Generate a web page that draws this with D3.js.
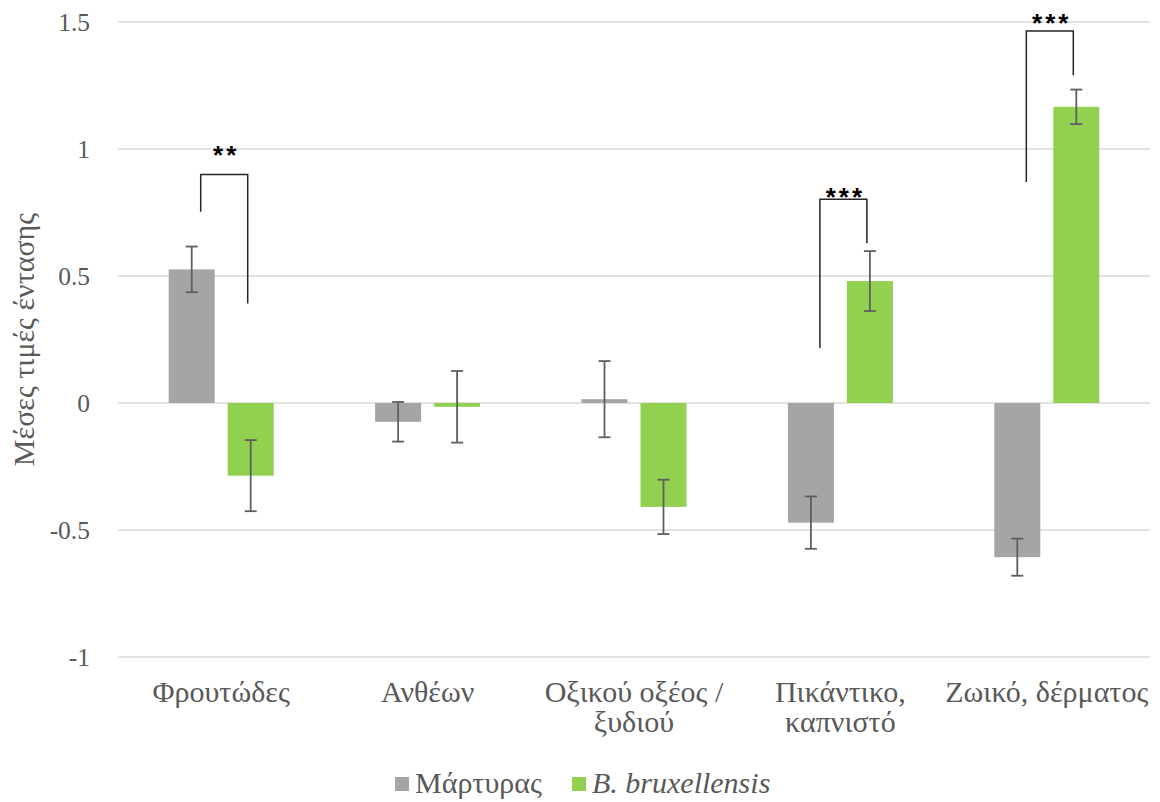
<!DOCTYPE html>
<html>
<head>
<meta charset="utf-8">
<script src="https://cdn.jsdelivr.net/npm/d3@7/dist/d3.min.js"></script>
</head>
<body style="margin:0">
<svg id="chart" width="1160" height="802"></svg>
<script>
// Sensory attribute categories (two-line labels split on "\n")
const categories = [
  "Φρουτώδες",
  "Ανθέων",
  "Οξικού οξέος /\nξυδιού",
  "Πικάντικο,\nκαπνιστό",
  "Ζωικό, δέρματος"
];

const seriesNames = ["Μάρτυρας", "B. bruxellensis"];

// Mean intensity values and their error margins
const controlValues = [0.526, -0.074, 0.015, -0.471, -0.607];
const controlErrors = [0.090, 0.078, 0.150, 0.103, 0.073];
const brettValues   = [-0.286, -0.015, -0.409, 0.480, 1.166];
const brettErrors   = [0.140, 0.141, 0.107, 0.118, 0.068];

const yTicks = [-1, -0.5, 0, 0.5, 1, 1.5];
const yTickLabels = ["-1", "-0.5", "0", "0.5", "1", "1.5"];

// Significance brackets: category index, left leg end, bracket top, right leg end, star row level (axis units)
const brackets = [
  { cat: 0, left: 0.753, top: 0.900, right: 0.392, starsAt: 1.004, label: "**" },
  { cat: 3, left: 0.217, top: 0.802, right: 0.629, starsAt: 0.839, label: "***" },
  { cat: 4, left: 0.870, top: 1.465, right: 1.290, starsAt: 1.524, label: "***" }
];

const colors = ["#a5a5a5", "#92d050"];
const textColor = "#595959";
const SERIF = "Liberation Serif";
const SANS = "Liberation Sans";

const svg = d3.select("#chart");
const plot = { left: 118, right: 1150, top: 22, bottom: 657 };

const y = d3.scaleLinear().domain([-1, 1.5]).range([plot.bottom, plot.top]);
const x0 = d3.scaleBand().domain(categories).range([plot.left, plot.right]).padding(0);
const groupWidth = 105;
const x1 = d3.scaleBand().domain(seriesNames)
  .range([(x0.bandwidth() - groupWidth) / 2, (x0.bandwidth() + groupWidth) / 2])
  .paddingInner(0.22).paddingOuter(0);

function serifText(sel, size) {
  return sel.style("font-family", SERIF).style("font-size", size + "px").attr("fill", textColor);
}

// Horizontal gridlines
svg.append("g").selectAll("line").data(yTicks).join("line")
  .attr("x1", plot.left).attr("x2", plot.right)
  .attr("y1", d => y(d)).attr("y2", d => y(d))
  .attr("stroke", "#d9d9d9").attr("stroke-width", 1.4);

// Y axis tick labels
const yAxis = d3.axisLeft(y).tickValues(yTicks)
  .tickFormat((d, i) => yTickLabels[i]).tickSize(0).tickPadding(0);
const yg = svg.append("g").attr("transform", "translate(90,0)").call(yAxis);
yg.attr("font-family", null).attr("font-size", null);
yg.select(".domain").remove();
serifText(yg.selectAll("text"), 25.5).attr("dy", "0.34em");

// Bars
const rows = categories.map((c, i) => ({
  cat: c,
  values: [
    { s: seriesNames[0], v: controlValues[i], e: controlErrors[i], color: colors[0] },
    { s: seriesNames[1], v: brettValues[i], e: brettErrors[i], color: colors[1] }
  ]
}));

const groups = svg.append("g").selectAll("g").data(rows).join("g")
  .attr("transform", d => `translate(${x0(d.cat)},0)`);

groups.selectAll("rect").data(d => d.values).join("rect")
  .attr("x", d => x1(d.s))
  .attr("width", x1.bandwidth())
  .attr("y", d => y(Math.max(0, d.v)))
  .attr("height", d => Math.abs(y(d.v) - y(0)))
  .attr("fill", d => d.color);

// Error bars
const cap = 6;
const eb = groups.selectAll("g.err").data(d => d.values).join("g").attr("class", "err")
  .attr("stroke", "#5f5f5f").attr("stroke-width", 1.8);
eb.append("line")
  .attr("x1", d => x1(d.s) + x1.bandwidth() / 2).attr("x2", d => x1(d.s) + x1.bandwidth() / 2)
  .attr("y1", d => y(d.v + d.e)).attr("y2", d => y(d.v - d.e));
eb.append("line")
  .attr("x1", d => x1(d.s) + x1.bandwidth() / 2 - cap).attr("x2", d => x1(d.s) + x1.bandwidth() / 2 + cap)
  .attr("y1", d => y(d.v + d.e)).attr("y2", d => y(d.v + d.e));
eb.append("line")
  .attr("x1", d => x1(d.s) + x1.bandwidth() / 2 - cap).attr("x2", d => x1(d.s) + x1.bandwidth() / 2 + cap)
  .attr("y1", d => y(d.v - d.e)).attr("y2", d => y(d.v - d.e));

// Significance brackets
const bg = svg.append("g");
brackets.forEach(b => {
  const cat = categories[b.cat];
  const lx = x0(cat) + x1(seriesNames[0]) + x1.bandwidth() / 2 + 9;
  const rx = x0(cat) + x1(seriesNames[1]) + x1.bandwidth() / 2 - 3;
  bg.append("path")
    .attr("d", `M${lx},${y(b.left)}V${y(b.top)}H${rx}V${y(b.right)}`)
    .attr("fill", "none").attr("stroke", "#262626").attr("stroke-width", 1.5);
  bg.append("text")
    .attr("x", (lx + rx) / 2 + 2).attr("y", y(b.starsAt) + 16)
    .attr("text-anchor", "middle")
    .style("font-family", SANS).style("font-size", "26px").style("font-weight", "bold")
    .style("letter-spacing", "3px").attr("fill", "#000")
    .text(b.label);
});

// Category labels
const xl = svg.append("g");
categories.forEach(c => {
  const lines = c.split("\n");
  const cx = x0(c) + x0.bandwidth() / 2;
  const t = serifText(xl.append("text"), 30)
    .attr("x", cx).attr("y", 702)
    .attr("text-anchor", "middle");
  lines.forEach((ln, i) => {
    t.append("tspan").attr("x", cx).attr("dy", i === 0 ? 0 : 30).text(ln);
  });
});

// Y axis title
serifText(svg.append("text"), 30)
  .attr("transform", `translate(34,${(plot.top + plot.bottom) / 2}) rotate(-90)`)
  .attr("text-anchor", "middle")
  .text("Μέσες τιμές έντασης");

// Legend
const legendItems = [
  { name: seriesNames[0], color: colors[0], x: 395, italic: false },
  { name: seriesNames[1], color: colors[1], x: 572, italic: true }
];
const lg = svg.append("g");
legendItems.forEach(it => {
  lg.append("rect").attr("x", it.x).attr("y", 777).attr("width", 14).attr("height", 14).attr("fill", it.color);
  serifText(lg.append("text"), 30).attr("x", it.x + 20).attr("y", 793)
    .style("font-style", it.italic ? "italic" : "normal")
    .text(it.name);
});
</script>
</body>
</html>
